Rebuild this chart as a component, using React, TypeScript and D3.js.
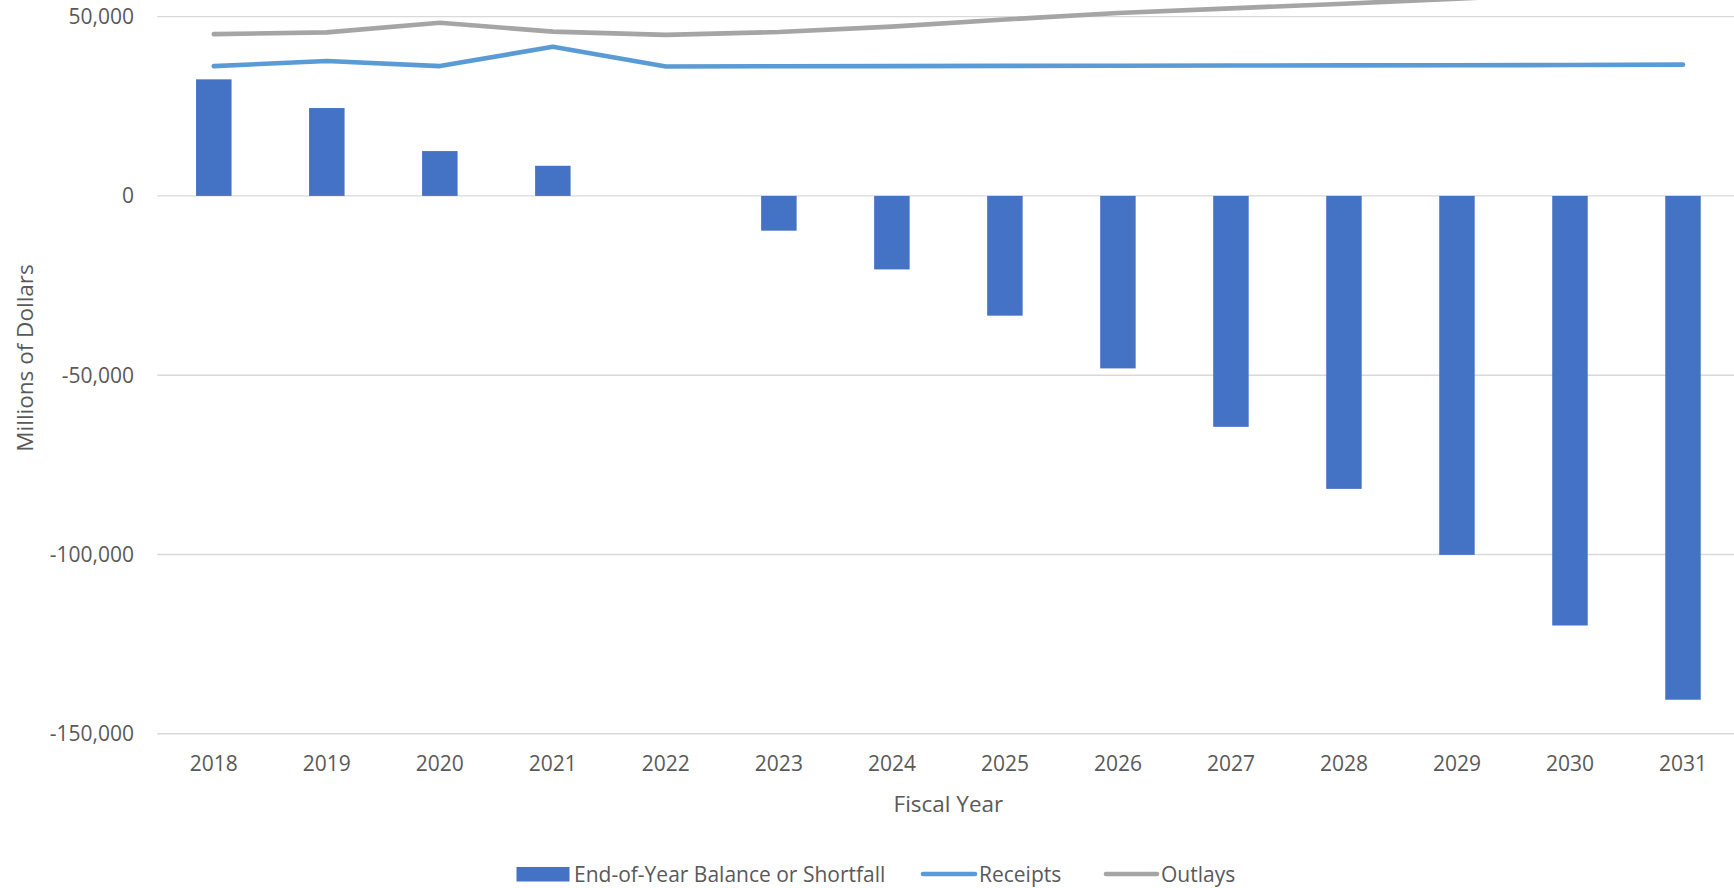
import React from "react";
import * as d3 from "d3";

// Fiscal years on the category axis
const years = ["2018", "2019", "2020", "2021", "2022", "2023", "2024", "2025", "2026", "2027", "2028", "2029", "2030", "2031"];

// End-of-year balance (positive) or shortfall (negative), millions of dollars
const balance = [32500, 24500, 12500, 8400, 0, -9700, -20500, -33400, -48100, -64400, -81700, -100100, -119800, -140500];

// Trust fund receipts, millions of dollars
const receipts = [36200, 37600, 36200, 41600, 36100, 36150, 36200, 36250, 36300, 36350, 36400, 36450, 36500, 36600];

// Trust fund outlays, millions of dollars
const outlays = [45100, 45600, 48300, 45800, 44900, 45700, 47200, 49200, 51000, 52300, 53600, 55000, 56400, 57800];

// Value-axis ticks
const yTicks = [50000, 0, -50000, -100000, -150000];

const W = 1734;
const H = 888;
const FONT = "'Open Sans', sans-serif";
const TEXT = "#595959";
const BAR = "#4472C4";
const REC = "#5B9BD5";
const OUT = "#A5A5A5";

export default function App() {
  const x = d3.scaleBand<string>().domain(years).range([157.3, 1739.5]).padding(0);
  const y = d3.scaleLinear().domain([-150000, 50000]).range([733.8, 16.6]);
  const barW = x.bandwidth() * 0.314;
  const cx = (yr: string) => (x(yr) as number) + x.bandwidth() / 2;

  const line = d3
    .line<number>()
    .x((_, i) => cx(years[i]))
    .y((d) => y(d));

  // thousands separator with a plain hyphen for negatives
  const fmt = (v: number) => d3.format(",")(v).replace("\u2212", "-");

  return (
    <svg
      width={W}
      height={H}
      style={{ position: "fixed", left: 0, top: 0, background: "#fff", overflow: "hidden" }}
      fontFamily={FONT}
    >
      <rect x={0} y={0} width={W} height={H} fill="#fff" />

      {/* gridlines and value labels */}
      {yTicks.map((t) => (
        <g key={t}>
          <line x1={157.3} x2={W} y1={y(t)} y2={y(t)} stroke="#d9d9d9" strokeWidth={1.4} />
          <text x={134} y={y(t)} dy="0.36em" textAnchor="end" fontSize={21} fill={TEXT}>
            {fmt(t)}
          </text>
        </g>
      ))}

      {/* balance / shortfall bars */}
      {balance.map((v, i) => (
        <rect
          key={years[i]}
          x={cx(years[i]) - barW / 2}
          y={Math.min(y(v), y(0))}
          width={barW}
          height={Math.abs(y(v) - y(0))}
          fill={BAR}
        />
      ))}

      {/* receipts and outlays */}
      <path d={line(receipts) ?? ""} fill="none" stroke={REC} strokeWidth={4.6} strokeLinecap="round" strokeLinejoin="round" />
      <path d={line(outlays) ?? ""} fill="none" stroke={OUT} strokeWidth={4.6} strokeLinecap="round" strokeLinejoin="round" />

      {/* category labels */}
      {years.map((yr) => (
        <text key={yr} x={cx(yr)} y={770.5} textAnchor="middle" fontSize={21} fill={TEXT}>
          {yr}
        </text>
      ))}

      {/* axis titles */}
      <text x={948.4} y={812} textAnchor="middle" fontSize={22.5} fill={TEXT}>
        Fiscal Year
      </text>
      <text
        transform="translate(33,358) rotate(-90)"
        textAnchor="middle"
        fontSize={22.5}
        fill={TEXT}
      >
        Millions of Dollars
      </text>

      {/* legend */}
      <g fontSize={21} fill={TEXT}>
        <rect x={516.5} y={867} width={53} height={14.5} fill={BAR} />
        <text x={574} y={874} dy="0.36em">End-of-Year Balance or Shortfall</text>

        <line x1={923} x2={975} y1={874} y2={874} stroke={REC} strokeWidth={4.6} strokeLinecap="round" />
        <text x={979} y={874} dy="0.36em">Receipts</text>

        <line x1={1106} x2={1157} y1={874} y2={874} stroke={OUT} strokeWidth={4.6} strokeLinecap="round" />
        <text x={1161} y={874} dy="0.36em">Outlays</text>
      </g>
    </svg>
  );
}
